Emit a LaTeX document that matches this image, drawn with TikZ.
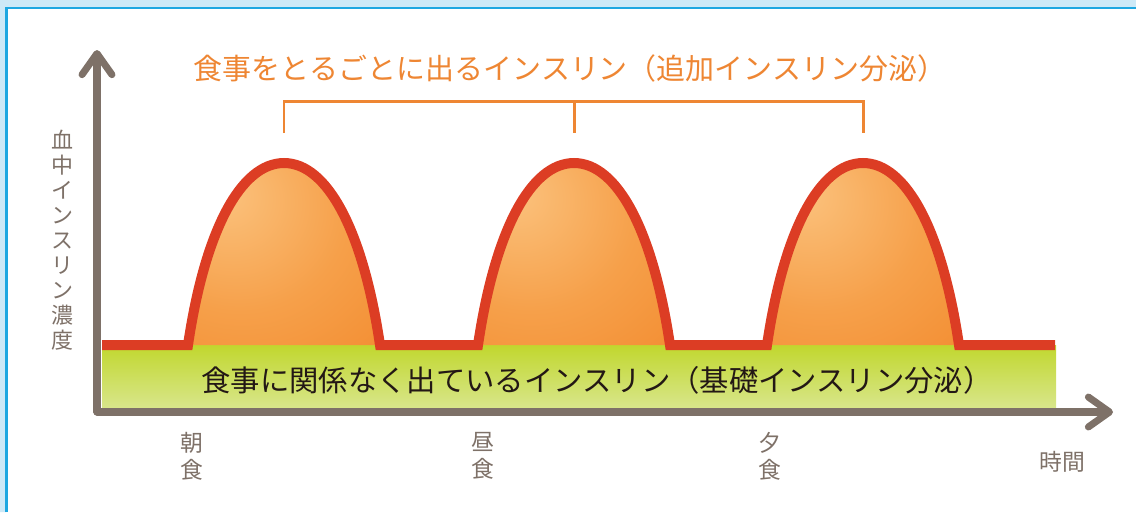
\documentclass[tikz,border=0pt]{standalone}
\usepackage{fontspec}
\setmainfont{Noto Sans CJK JP}
\usetikzlibrary{arrows.meta}
\definecolor{axisgray}{HTML}{7E7168}
\definecolor{insred}{HTML}{DC3D24}
\definecolor{insorange}{HTML}{EE8633}
\definecolor{humpLight}{HTML}{FBC27D}
\definecolor{humpMid}{HTML}{F6A04A}
\definecolor{humpDark}{HTML}{F07F1F}
\definecolor{baseTop}{HTML}{C1D72E}
\definecolor{baseBot}{HTML}{D8E68B}
\definecolor{frameBlue}{HTML}{1EA7E1}
\definecolor{framePale}{HTML}{CDE9F7}
\definecolor{textdark}{HTML}{231815}
\pgfdeclareradialshading{humpglow}{\pgfpoint{-16bp}{17bp}}{color(0bp)=(humpLight); color(28bp)=(humpMid); color(68bp)=(humpDark); color(100bp)=(humpDark)}
\begin{document}
\begin{tikzpicture}[x=0.02cm,y=-0.02cm, line join=round, line cap=round,
	declare function={hw=96; hh=182; yb=345;},
	axis/.style={draw=axisgray, line width=4pt, -{Straight Barb[round,length=12pt,width=17pt]}},
	lab/.style={text=axisgray, align=center, font=\fontsize{13}{15.4}\selectfont},
	bracket/.style={draw=insorange, line width=1.7pt, line cap=butt, line join=miter}]
	\useasboundingbox (0,0) rectangle (1136,512);
	% frame
	\fill[framePale] (0,0) rectangle (1136,7) (0,0) rectangle (6,512);
	\draw[frameBlue, line width=1.4pt, line cap=butt, line join=miter] (6.5,512) -- (6.5,8) -- (1136,8);
	\path
	(97,412) coordinate (O)
	(97,50) coordinate (ytip)
	(1113,412) coordinate (xtip)
	(102,yb) coordinate (bl)
	(1055,yb) coordinate (br)
	;
	\foreach \c [count=\i] in {284,574,863}{
		\path (\c,133) coordinate (L\i) (\c,101) coordinate (T\i);
	}
	% basal secretion
	\shade[top color=baseTop, bottom color=baseBot] (102,yb) rectangle (1056,408);
	% bolus humps
	\foreach \c in {284,574,863}
	\shade[shading=humpglow] (\c-hw,yb) .. controls +(17,-115) and +(-43,0) .. (\c,yb-hh)
		.. controls +(43,0) and +(-17,-115) .. (\c+hw,yb) -- cycle;
	\draw[insred, line width=5.7pt, line cap=butt, line join=miter] (bl)
		foreach \c in {284,574,863}{ -- (\c-hw,yb) .. controls +(17,-115) and +(-43,0) .. (\c,yb-hh)
		.. controls +(43,0) and +(-17,-115) .. (\c+hw,yb)} -- (br);
	% axes
	\draw[axis] (O) -- (ytip);
	\draw[axis] (O) -- (xtip);
	% bracket
	\draw[bracket] (L1) -- (T1) -- (T3) -- (L3) (T2) -- (L2);
	\node[text=insorange, font=\fontsize{16.5}{20}\selectfont] (addtext) at (570,68) {食事をとるごとに出るインスリン（追加インスリン分泌）};
	\node[text=textdark, font=\fontsize{16.7}{20}\selectfont] (basetext) at (597,380) {食事に関係なく出ているインスリン（基礎インスリン分泌）};
	\node[lab, font=\fontsize{12.5}{14.2}\selectfont] (ylabel) at (62,240) {血\\中\\イ\\ン\\ス\\リ\\ン\\濃\\度};
	\foreach \x/\w [count=\i] in {192/朝,483/昼,770/夕}
	\node[lab] (meal\i) at (\x,456) {\w\\食};
	\node[lab] (tlabel) at (1062,462) {時間};
\end{tikzpicture}
\end{document}
